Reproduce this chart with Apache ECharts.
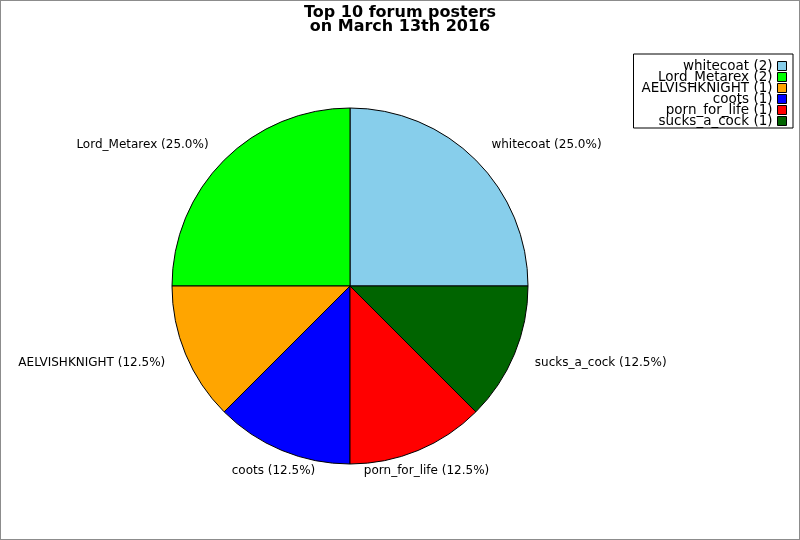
<!DOCTYPE html>
<html>
<head>
<meta charset="utf-8">
<script src="https://cdn.jsdelivr.net/npm/echarts@6/dist/echarts.min.js"></script>
<style>
html,body{margin:0;padding:0;background:#fff;}
#main{width:800px;height:540px;box-sizing:border-box;border:1px solid #8c8c8c;}
</style>
</head>
<body>
<div id="main"></div>
<script>
const names = ['whitecoat', 'Lord_Metarex', 'AELVISHKNIGHT', 'coots', 'porn_for_life', 'sucks_a_cock'];
const posts = [2, 2, 1, 1, 1, 1];
const colors = ['#87CEEB', '#00FF00', '#FFA500', '#0000FF', '#FF0000', '#006400'];
const titleText = 'Top 10 forum posters\non March 13th 2016';

const CX = 349, CY = 285, R = 178;
const chart = echarts.init(document.getElementById('main'));
const counts = {};
names.forEach((n, i) => counts[n] = posts[i]);

chart.setOption({
  animation: false,
  title: {
    text: titleText,
    left: 'center',
    top: 0,
    textStyle: {fontFamily: 'DejaVu Sans', fontSize: 16, fontWeight: 'bold', color: '#000', lineHeight: 14}
  },
  legend: {
    orient: 'vertical',
    right: 6,
    top: 53,
    align: 'right',
    backgroundColor: '#fff',
    borderColor: '#000',
    borderWidth: 1,
    borderRadius: 0,
    padding: [5, 6, 0, 5],
    itemWidth: 9,
    itemHeight: 9,
    itemGap: -3,
    icon: 'rect',
    itemStyle: {borderColor: '#000', borderWidth: 1},
    data: names,
    formatter: n => n + ' (' + counts[n] + ')',
    textStyle: {fontFamily: 'DejaVu Sans', fontSize: 13.5, color: '#000', width: 134, align: 'right', lineHeight: 11, padding: [0, 0, 0, 0]}
  },
  series: [{
    type: 'pie',
    center: [CX, CY],
    radius: R,
    startAngle: 0,
    clockwise: false,
    avoidLabelOverlap: false,
    color: colors,
    itemStyle: {borderColor: '#000', borderWidth: 1},
    emphasis: {disabled: true},
    label: {
      show: true,
      position: 'outside',
      fontFamily: 'DejaVu Sans',
      fontSize: 12,
      color: '#000',
      distanceToLabelLine: 0,
      formatter: p => p.name + ' (' + p.percent.toFixed(1) + '%)'
    },
    percentPrecision: 1,
    labelLine: {show: false, length: 22, length2: 0},
    labelLayout: function (params) {
      const r = params.labelRect;
      if (r.y > CY + R * 0.7 || r.y + r.height < CY - R * 0.7) {
        if (params.align === 'left' || r.x > CX) {
          if (r.x - CX < 120) return {dx: -r.width / 2};
        } else {
          if (CX - (r.x + r.width) < 120) return {dx: r.width / 2};
        }
      }
      return {};
    },
    data: names.map((n, i) => ({name: n, value: posts[i]}))
  }]
});
</script>
</body>
</html>
